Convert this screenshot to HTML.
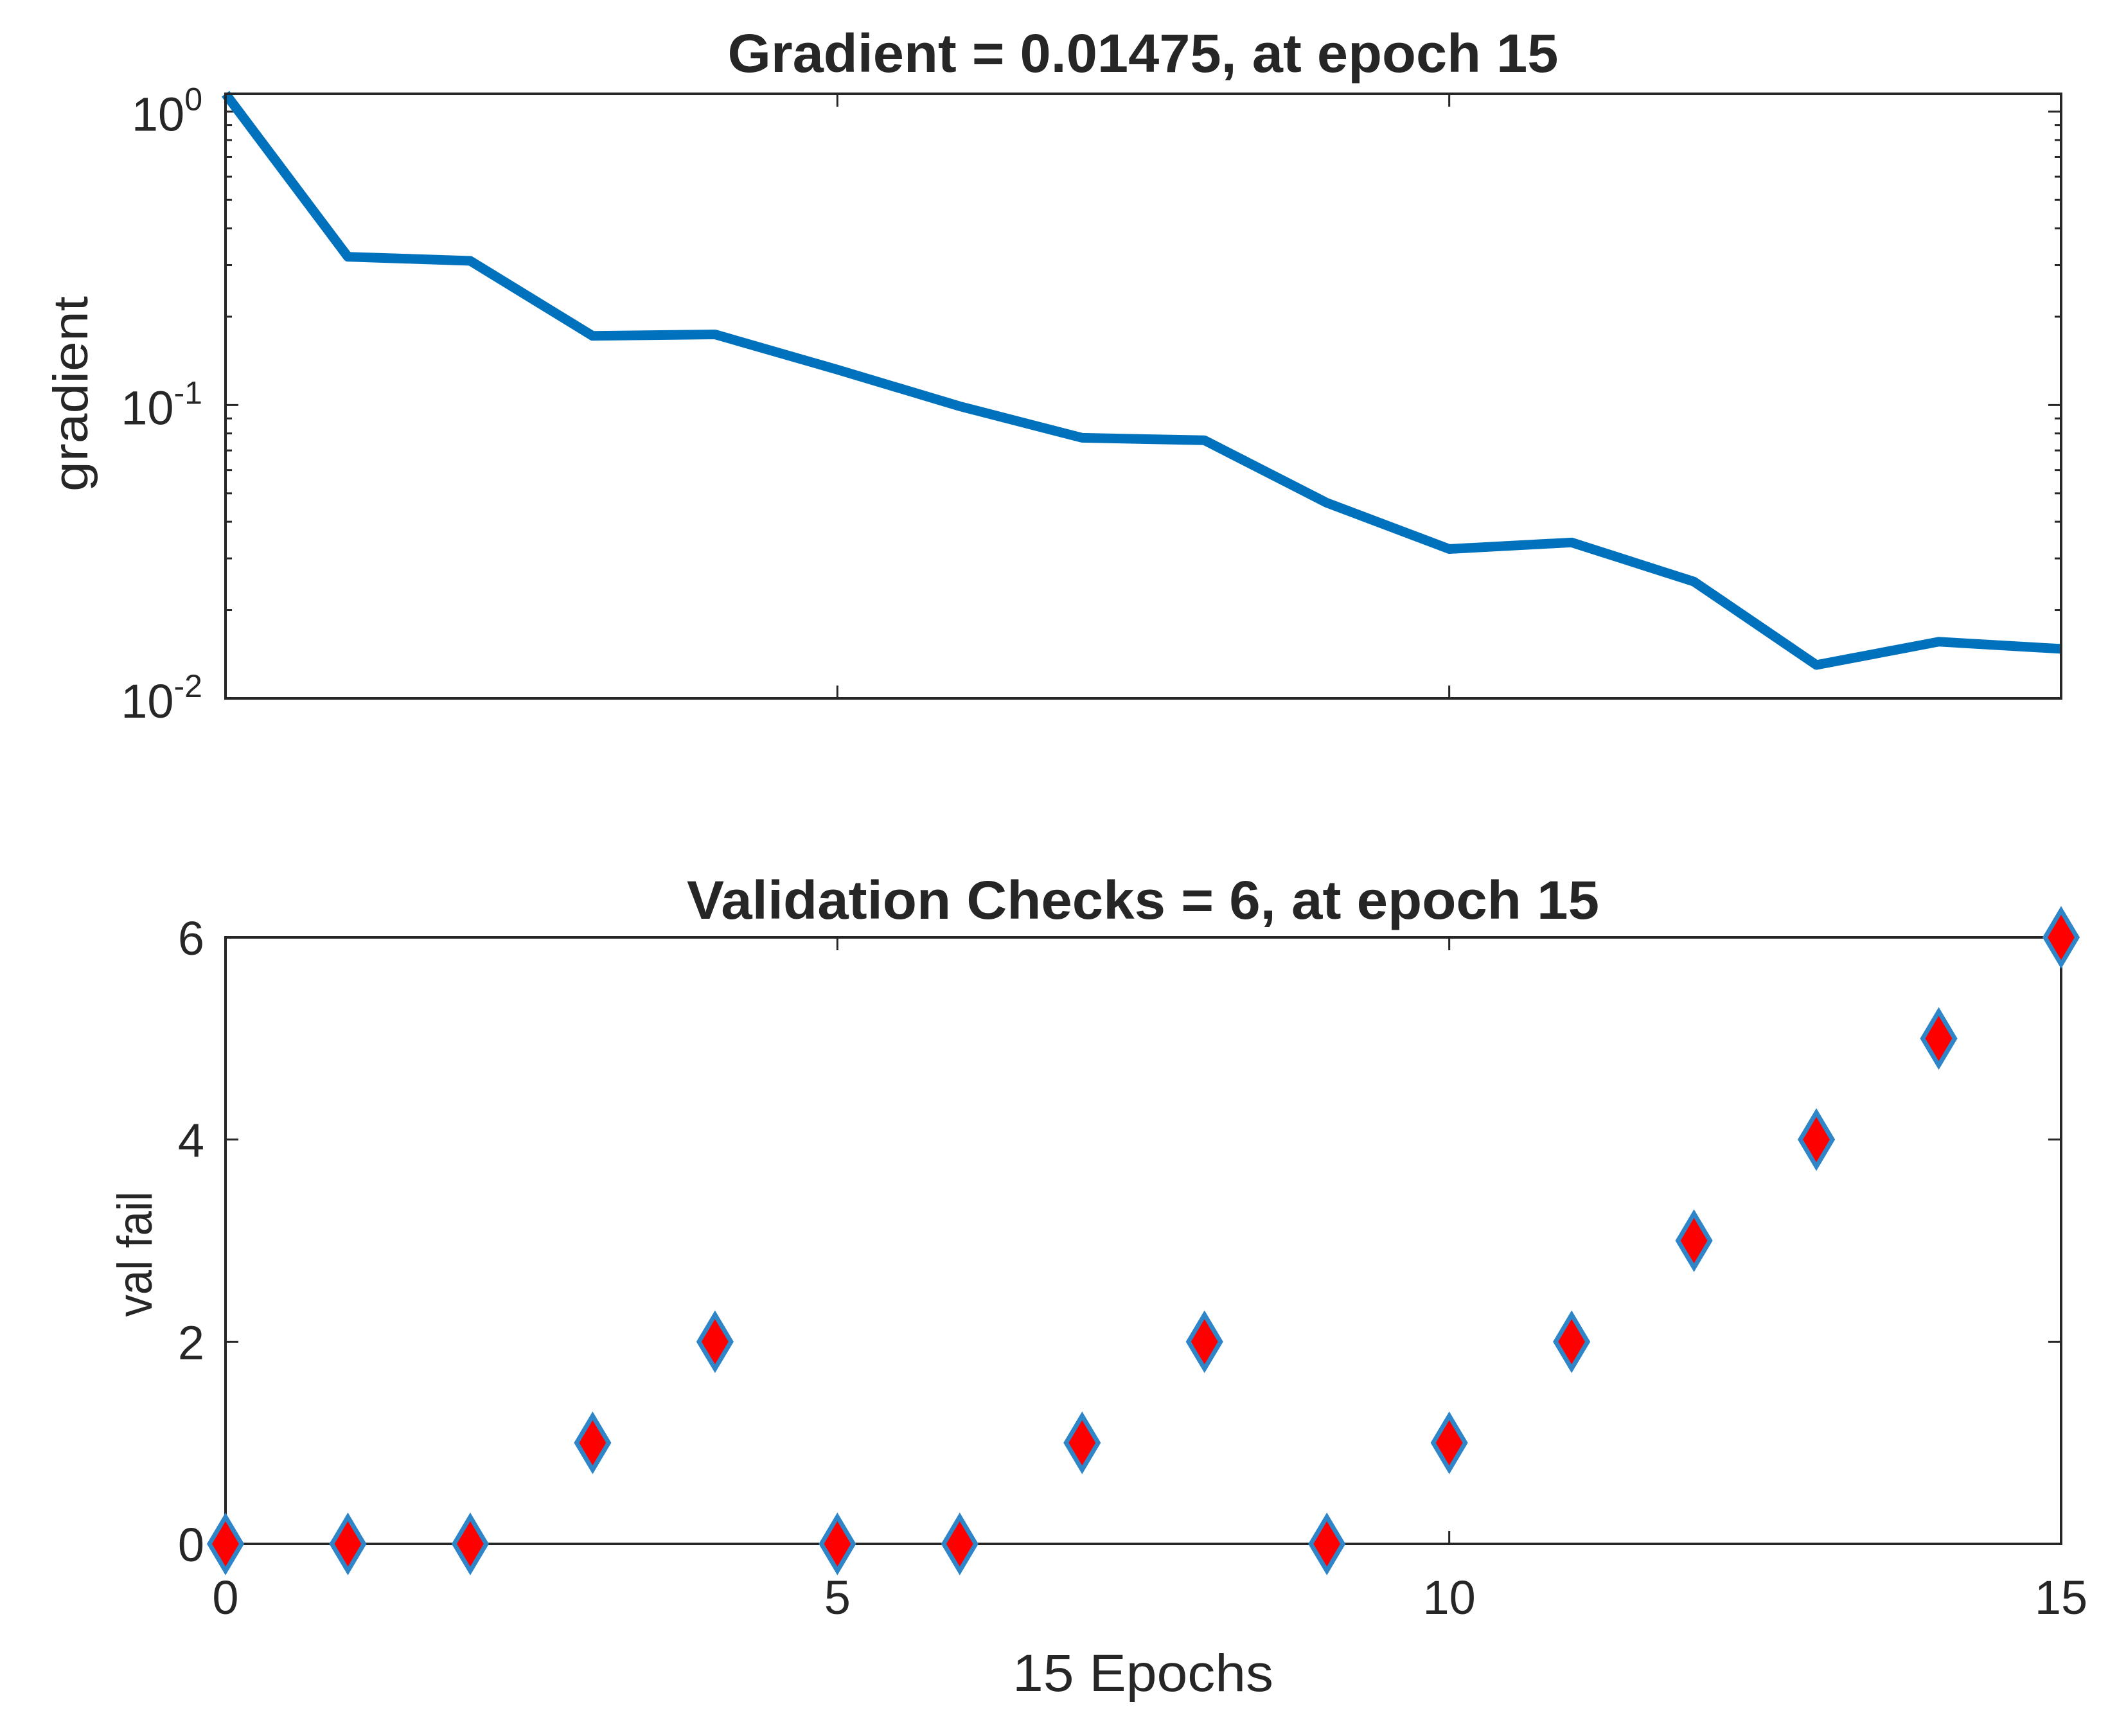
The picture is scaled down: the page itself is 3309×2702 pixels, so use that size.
<!DOCTYPE html>
<html><head><meta charset="utf-8"><style>
html,body{margin:0;padding:0;background:#fff}
svg{display:block}
text{font-family:"Liberation Sans",Arial,sans-serif;fill:#262626}
</style></head><body>
<svg id="chart" width="3309" height="2702" viewBox="0 0 3309 2702" xmlns="http://www.w3.org/2000/svg">
<rect width="3309" height="2702" fill="#fff"/>
<g id="topPanel"></g>
<g id="botPanel"></g>
</svg>
<script>
const epochs=[0,1,2,3,4,5,6,7,8,9,10,11,12,13,14,15];
const gradientValues=[1.15,0.32,0.31,0.172,0.174,0.132,0.099,0.0773,0.0758,0.0464,0.0323,0.034,0.025,0.013,0.0156,0.01475];
const valFail=[0,0,0,1,2,0,0,1,2,0,1,2,3,4,5,6];
const xTicks=[0,5,10,15];
const logTickExps=[0,-1,-2];
const valTicks=[0,2,4,6];

const NS='http://www.w3.org/2000/svg';
function el(tag,attrs,parent,txt){const e=document.createElementNS(NS,tag);for(const k in attrs)e.setAttribute(k,attrs[k]);if(txt!==undefined)e.textContent=txt;parent.appendChild(e);return e;}
const L=351,R=3208;
const T1=146,B1=1087,T2=1459,B2=2403;
const xS=v=>L+(v-0)/(15-0)*(R-L);
const logMin=-2,logMax=Math.log10(1.15);
const yG=v=>B1-(Math.log10(v)-logMin)/(logMax-logMin)*(B1-T1);
const yV=v=>B2-(v-0)/(6-0)*(B2-T2);
const topG=document.getElementById('topPanel'),botG=document.getElementById('botPanel');
const tl=20;

let t=el('text',{x:1779,y:112,'font-size':84,'font-weight':'bold','text-anchor':'middle',fill:'#000',textLength:1293,lengthAdjust:'spacingAndGlyphs'},topG,'Gradient = 0.01475, at epoch 15');


xTicks.forEach(v=>{const x=xS(v);
 el('line',{x1:x,x2:x,y1:B1,y2:B1-tl,stroke:'#262626','stroke-width':3},topG);
 el('line',{x1:x,x2:x,y1:T1,y2:T1+tl,stroke:'#262626','stroke-width':3},topG);});
for(let d=-2;d<=0;d++){for(let m=1;m<=9;m++){const v=m*Math.pow(10,d);if(v>1.15)break;const y=yG(v);const len=m===1?tl:tl*0.5;
 el('line',{x1:L,x2:L+len,y1:y,y2:y,stroke:'#262626','stroke-width':3},topG);
 el('line',{x1:R,x2:R-len,y1:y,y2:y,stroke:'#262626','stroke-width':3},topG);}}
logTickExps.forEach(e=>{const y=yG(Math.pow(10,e));
 const tx=el('text',{x:315,y:y+30,'font-size':74,'text-anchor':'end'},topG);
 
 
 el('tspan',{},tx,'10');el('tspan',{dy:-32,'font-size':50},tx,String(e));});
const pts=epochs.map((e,i)=>xS(e)+','+yG(gradientValues[i])).join(' ');
const pl=el('polyline',{points:pts,fill:'none',stroke:'#0072BD','stroke-width':15,'stroke-linejoin':'round'},topG);


const r1=el('rect',{x:L,y:T1,width:R-L,height:B1-T1,fill:'none',stroke:'#262626','stroke-width':4},topG);


const yl1=el('text',{x:0,y:0,'font-size':76,'text-anchor':'middle',textLength:304,lengthAdjust:'spacingAndGlyphs',transform:'translate(136,613) rotate(-90)'},topG,'gradient');



t=el('text',{x:1779,y:1430,'font-size':84,'font-weight':'bold','text-anchor':'middle',fill:'#000',textLength:1420,lengthAdjust:'spacingAndGlyphs'},botG,'Validation Checks = 6, at epoch 15');


xTicks.forEach(v=>{const x=xS(v);
 el('line',{x1:x,x2:x,y1:B2,y2:B2-tl,stroke:'#262626','stroke-width':3},botG);
 el('line',{x1:x,x2:x,y1:T2,y2:T2+tl,stroke:'#262626','stroke-width':3},botG);
 const tx=el('text',{x:x,y:2512,'font-size':74,'text-anchor':'middle'},botG,String(v));
 
 });
valTicks.forEach(v=>{const y=yV(v);
 el('line',{x1:L,x2:L+tl,y1:y,y2:y,stroke:'#262626','stroke-width':3},botG);
 el('line',{x1:R,x2:R-tl,y1:y,y2:y,stroke:'#262626','stroke-width':3},botG);
 const tx=el('text',{x:318,y:y+27,'font-size':74,'text-anchor':'end'},botG,String(v));
 
 });
const r2=el('rect',{x:L,y:T2,width:R-L,height:B2-T2,fill:'none',stroke:'#262626','stroke-width':4},botG);


epochs.forEach((e,i)=>{const x=xS(e),y=yV(valFail[i]);
 const d=el('polygon',{points:`${x},${y-42} ${x+25},${y} ${x},${y+42} ${x-25},${y}`,fill:'#FF0000',stroke:'#2E86C8','stroke-width':7},botG);
 
 });
const yl2=el('text',{x:0,y:0,'font-size':76,'text-anchor':'middle',textLength:195,lengthAdjust:'spacingAndGlyphs',transform:'translate(236,1952) rotate(-90)'},botG,'val fail');


const xl=el('text',{x:1779,y:2632,'font-size':82,'text-anchor':'middle',textLength:406,lengthAdjust:'spacingAndGlyphs'},botG,'15 Epochs');


</script>
</body></html>
